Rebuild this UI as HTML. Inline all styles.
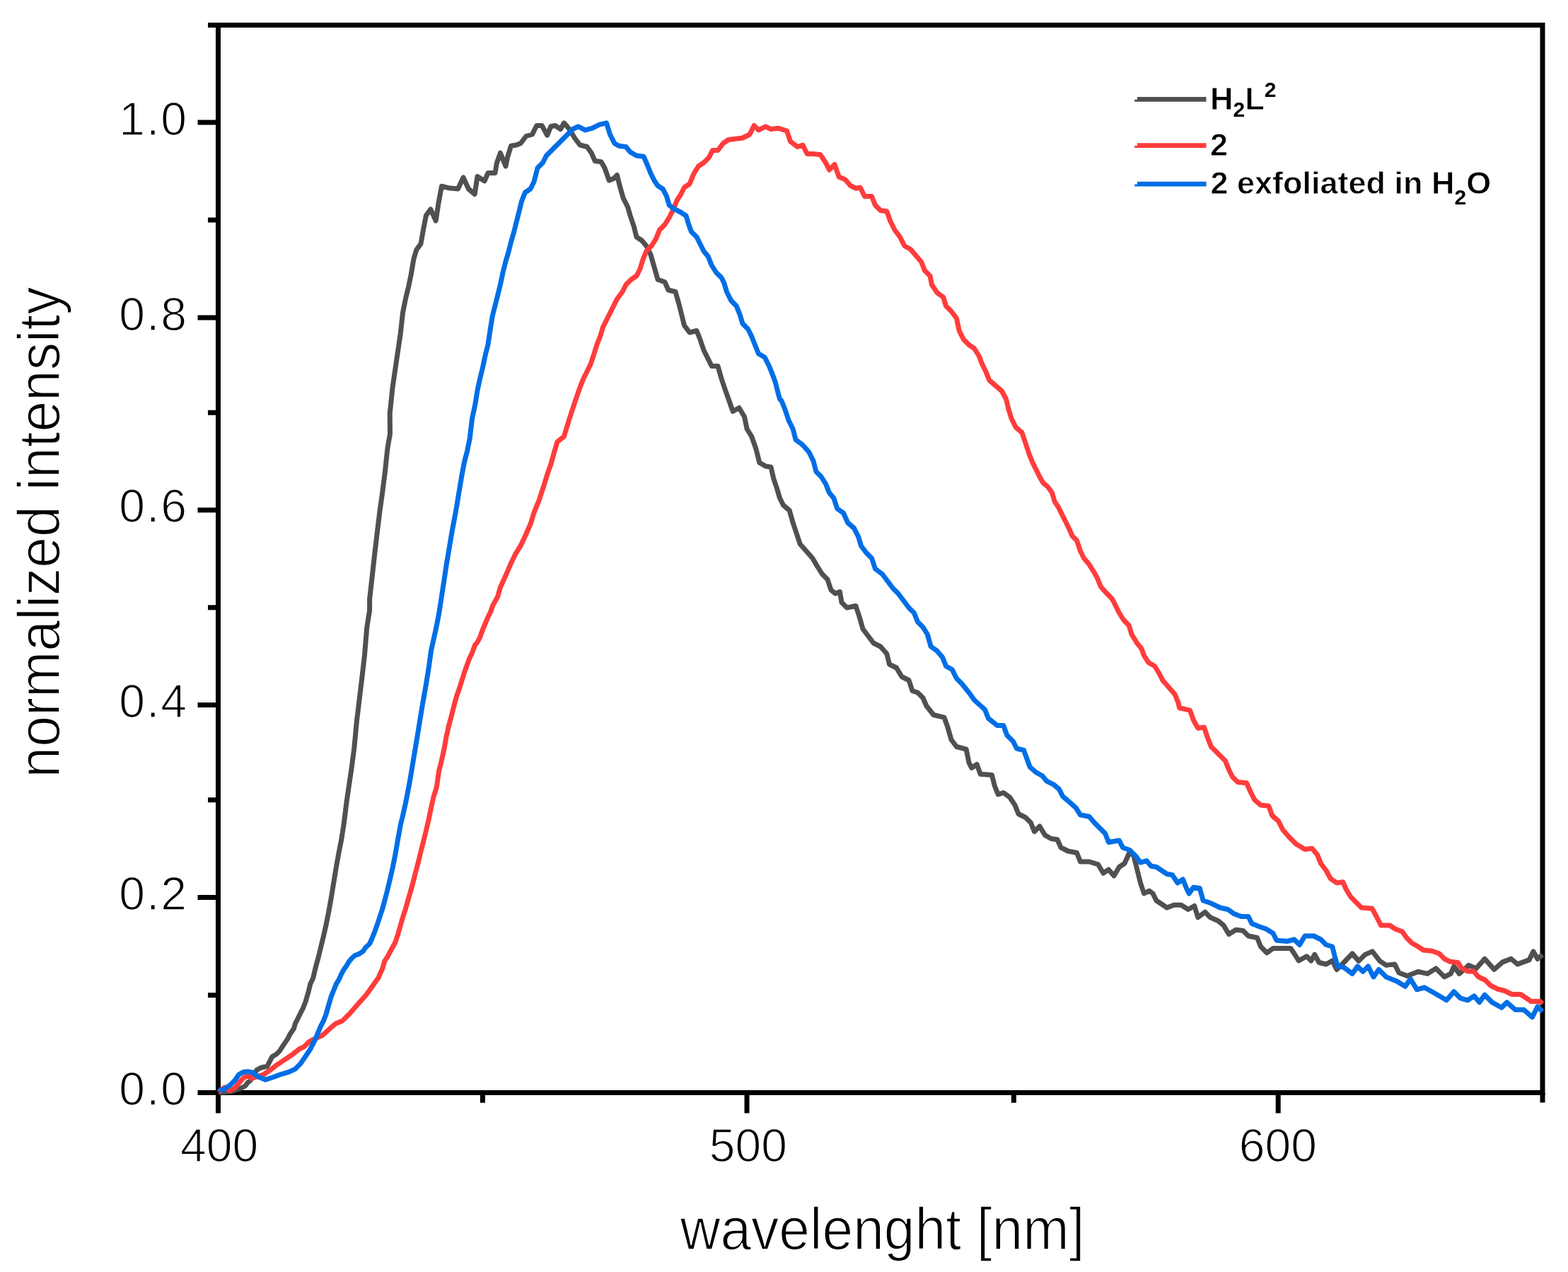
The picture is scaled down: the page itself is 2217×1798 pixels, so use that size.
<!DOCTYPE html><html><head><meta charset="utf-8"><title>Emission spectra</title><style>html,body{margin:0;padding:0;background:#fff;overflow:hidden}svg{display:block}text{font-family:"Liberation Sans",Arial,sans-serif;fill:#000}</style></head><body>
<svg width="2217" height="1798" viewBox="0 0 2217 1798">
<rect width="2217" height="1798" fill="#fff"/>
<g stroke="#000" stroke-width="7" fill="none" stroke-linecap="butt">
<rect x="308.5" y="35.5" width="1872.5" height="1509"/>
<path d="M279.5 1544.5H308.5M279.5 1268.4H308.5M279.5 996.6H308.5M279.5 720.9H308.5M279.5 449.0H308.5M279.5 173.0H308.5M294 1406.7H308.5M294 1130.8H308.5M294 858.8H308.5M294 583.2H308.5M294 311.0H308.5M294 35.5H308.5M308.5 1544.5V1573.4M1056.0 1544.5V1573.4M1807.2 1544.5V1573.4M682.4 1544.5V1558.7M1433.4 1544.5V1558.7M2181 1544.5V1558.5"/>
</g>
<g fill="none" stroke-width="7" stroke-linejoin="round" stroke-linecap="butt">
<path stroke="#505050" d="M309.0 1544.0L318.0 1543.5L328.2 1542.5L339.5 1538.7L346.8 1535.0L350.4 1530.0L354.0 1527.5L358.5 1520.0L363.1 1512.4L370.4 1508.7L377.7 1507.5L380.8 1501.4L385.0 1493.5L391.1 1489.9L395.3 1485.6L400.8 1477.1L406.6 1468.6L410.3 1461.4L415.4 1454.1L417.5 1446.8L421.2 1439.5L424.8 1432.2L428.5 1424.9L432.1 1415.8L435.8 1403.1L438.8 1390.7L442.7 1382.4L446.2 1367.5L450.3 1352.8L453.9 1337.7L457.5 1323.0L461.1 1307.0L464.7 1289.0L468.3 1269.0L471.9 1247.0L475.5 1225.0L479.1 1205.0L482.7 1187.0L486.4 1163.0L490.0 1134.0L493.5 1110.0L497.1 1085.7L500.8 1057.6L504.3 1020.2L508.0 989.6L511.5 960.7L515.4 927.0L518.8 886.6L522.6 862.9L522.6 847.0L526.2 815.0L529.8 782.5L533.4 752.0L537.0 722.5L540.6 697.0L544.3 668.0L547.9 634.0L551.5 613.0L551.2 584.5L555.0 548.2L558.8 522.0L562.5 497.0L566.2 472.0L569.5 442.0L573.8 420.8L577.5 405.8L581.2 388.2L585.0 365.8L588.8 353.2L595.0 344.5L598.8 323.2L602.5 304.5L608.8 295.8L616.2 312.0L620.0 287.0L624.5 263.2L635.0 265.8L647.5 267.0L655.0 250.8L662.5 267.0L671.2 274.5L675.0 249.5L685.0 255.8L690.0 244.5L700.0 244.5L702.5 230.0L707.5 216.2L715.0 235.0L717.5 222.5L722.5 206.2L730.0 205.0L736.2 202.5L743.8 192.5L752.5 190.0L758.8 177.5L766.2 177.5L773.8 191.2L778.8 178.8L785.0 177.5L792.5 182.5L797.5 173.8L805.0 182.5L812.5 195.0L820.0 205.0L830.0 207.5L836.2 216.2L841.2 227.5L850.0 228.8L855.0 237.5L861.2 255.0L867.5 252.5L872.5 247.5L876.2 262.5L881.2 280.0L887.5 292.5L891.2 305.0L896.2 320.0L900.0 335.0L907.5 340.0L913.8 347.5L920.0 360.0L925.0 377.5L930.0 395.0L940.0 398.8L945.0 410.0L955.0 412.5L960.0 430.0L963.8 445.0L967.5 460.0L975.0 470.0L985.0 467.5L990.0 480.0L995.0 495.0L1000.0 505.0L1006.2 517.5L1015.0 517.5L1020.0 535.0L1025.0 550.0L1030.0 564.0L1036.2 581.5L1045.0 576.5L1052.5 589.0L1056.2 606.5L1062.5 616.5L1068.8 634.0L1073.8 654.0L1082.5 659.0L1090.0 660.2L1093.8 676.5L1098.8 691.5L1102.5 704.0L1107.5 714.0L1116.2 721.5L1121.2 739.0L1126.2 754.0L1131.2 769.0L1140.0 779.0L1148.8 789.0L1156.2 801.5L1162.5 811.5L1170.0 819.0L1175.0 834.0L1181.2 839.0L1187.5 836.5L1190.0 851.5L1197.5 859.0L1210.0 856.5L1215.0 871.5L1220.0 889.0L1227.5 899.0L1235.0 909.0L1245.0 914.0L1253.8 924.0L1257.5 939.0L1267.5 944.0L1275.0 956.5L1285.0 961.5L1290.0 976.5L1297.5 979.0L1305.0 986.5L1310.0 998.0L1320.0 1010.5L1335.0 1014.2L1340.0 1028.0L1345.0 1045.5L1352.5 1055.5L1366.2 1059.2L1370.0 1078.0L1373.8 1085.5L1381.2 1080.5L1386.2 1094.2L1402.5 1095.5L1406.2 1110.5L1411.2 1123.0L1418.8 1120.5L1427.5 1126.8L1435.0 1138.0L1440.0 1150.5L1450.0 1155.5L1457.5 1163.0L1462.5 1175.5L1470.0 1168.0L1477.5 1180.5L1486.2 1185.5L1495.0 1186.8L1500.0 1198.0L1510.0 1203.0L1522.5 1205.5L1527.5 1218.0L1540.0 1218.0L1552.5 1221.8L1560.0 1234.2L1567.5 1229.2L1575.0 1238.0L1582.5 1225.5L1590.0 1220.5L1596.2 1206.8L1602.5 1208.0L1607.5 1228.0L1612.5 1248.0L1617.5 1263.0L1625.0 1259.2L1630.0 1263.0L1635.0 1273.0L1650.0 1283.0L1660.0 1279.2L1670.0 1279.2L1680.0 1285.5L1688.8 1280.5L1693.8 1296.8L1703.8 1289.2L1711.2 1296.8L1722.5 1301.8L1730.0 1308.0L1737.5 1320.5L1747.5 1314.2L1757.5 1315.5L1765.0 1323.0L1777.5 1325.5L1782.5 1338.0L1791.2 1346.8L1800.0 1340.5L1812.5 1340.5L1825.0 1340.5L1830.0 1348.0L1836.2 1358.0L1847.5 1351.8L1853.8 1358.0L1858.8 1349.2L1865.0 1360.5L1875.0 1363.0L1883.8 1358.0L1890.0 1370.5L1900.0 1360.5L1912.0 1347.9L1921.0 1358.4L1930.0 1349.4L1940.4 1344.9L1950.9 1358.4L1959.9 1364.4L1971.9 1362.9L1977.9 1374.9L1989.8 1379.4L2004.8 1373.4L2018.3 1376.4L2030.3 1368.9L2042.3 1380.9L2051.2 1376.4L2055.7 1365.9L2063.2 1376.4L2076.7 1364.4L2087.2 1368.9L2099.2 1355.4L2112.6 1370.4L2124.6 1359.9L2136.6 1355.4L2145.6 1362.9L2162.1 1356.9L2168.0 1344.9L2174.0 1355.4L2181.0 1349.4"/>
<path stroke="#FF3C3C" d="M309.0 1544.0L317.6 1537.0L324.9 1541.5L332.2 1537.9L339.5 1528.8L345.0 1523.0L350.4 1520.9L355.6 1524.3L363.0 1522.0L372.3 1519.0L383.2 1511.8L391.7 1505.1L402.6 1497.8L413.5 1490.5L422.6 1483.2L429.9 1479.6L437.2 1472.3L446.0 1468.0L455.4 1463.8L468.2 1452.3L474.9 1446.8L484.0 1443.1L494.9 1432.2L507.6 1417.6L517.4 1406.7L524.0 1397.6L531.3 1387.3L535.6 1381.2L536.2 1378.8L540.5 1370.0L543.8 1358.5L547.8 1352.5L553.1 1342.7L558.9 1332.0L562.5 1321.0L566.1 1308.5L569.7 1296.0L573.3 1285.0L576.9 1272.5L580.5 1260.0L584.1 1247.0L587.7 1232.5L591.6 1218.0L595.2 1203.0L598.8 1189.0L602.4 1174.5L606.2 1158.0L609.6 1141.5L613.4 1125.0L617.3 1113.0L620.5 1090.4L624.1 1076.0L627.7 1060.1L631.3 1040.0L634.9 1024.2L638.5 1011.2L642.1 996.8L645.7 983.8L649.3 973.8L652.9 962.2L656.5 950.7L660.1 940.6L663.7 930.6L667.3 923.4L671.6 911.8L675.2 907.5L678.8 900.3L682.4 890.2L686.0 881.6L689.6 873.0L693.9 864.3L696.5 856.4L703.7 843.4L707.3 830.5L714.5 814.6L722.0 797.3L728.9 782.9L736.1 771.4L743.6 755.5L750.5 739.7L754.8 725.3L761.8 708.0L769.0 686.4L772.9 673.4L779.8 653.2L783.7 638.8L788.0 624.4L797.5 617.0L801.2 604.5L805.0 592.0L810.0 577.0L815.0 562.0L820.0 547.5L825.0 535.0L830.0 525.0L835.0 515.0L840.0 500.0L843.8 487.5L848.8 475.0L852.5 462.5L857.5 452.5L862.5 442.5L867.5 432.5L872.5 422.5L880.0 412.5L885.0 402.5L892.5 395.0L900.0 390.0L905.0 380.0L908.8 367.5L913.8 355.0L921.2 347.5L927.5 337.5L932.5 325.0L940.0 317.5L946.2 307.5L952.5 295.0L957.5 282.5L962.5 275.0L967.5 265.0L975.0 260.0L981.2 245.0L987.5 235.0L995.0 230.0L1002.5 222.5L1007.5 212.5L1015.0 212.5L1022.5 202.5L1030.0 197.5L1040.0 196.2L1050.0 195.0L1060.0 190.0L1066.2 177.5L1072.5 183.8L1082.5 178.8L1090.0 182.5L1100.0 181.2L1112.5 185.0L1117.5 200.0L1127.5 207.5L1135.0 205.0L1141.2 217.5L1150.0 217.5L1160.0 218.8L1167.5 230.0L1172.5 240.0L1180.0 232.5L1186.2 250.0L1195.0 253.8L1202.5 262.5L1210.0 266.2L1216.2 265.0L1222.5 277.5L1232.5 277.5L1237.5 290.0L1245.0 297.5L1253.8 298.8L1258.8 312.5L1265.0 325.0L1272.5 335.0L1278.8 347.5L1287.5 352.5L1295.0 361.2L1302.5 370.0L1307.5 382.5L1315.0 390.0L1317.5 402.5L1325.0 413.8L1333.8 420.0L1337.5 432.5L1345.0 440.0L1352.5 450.0L1356.2 467.5L1362.5 480.0L1370.0 487.5L1377.5 492.5L1383.8 502.5L1388.8 515.0L1393.8 525.0L1398.8 537.5L1407.5 545.0L1416.2 552.5L1422.5 564.0L1426.2 579.0L1430.0 591.5L1436.2 604.0L1445.0 611.5L1450.0 626.5L1455.0 641.5L1460.0 654.0L1465.0 664.0L1470.0 674.0L1475.0 682.8L1481.2 687.8L1487.5 696.5L1491.2 709.0L1496.2 716.5L1501.2 726.5L1506.2 736.5L1511.2 746.5L1516.2 757.8L1522.5 764.0L1527.5 779.0L1532.5 789.0L1540.0 797.8L1546.2 807.8L1551.2 816.5L1556.2 829.0L1563.8 837.8L1572.5 846.5L1577.5 856.5L1582.5 866.5L1588.8 876.5L1596.2 884.0L1600.0 896.5L1607.5 909.0L1613.8 916.5L1617.5 926.5L1623.8 936.5L1632.5 941.5L1638.8 951.5L1643.8 961.5L1652.5 971.5L1661.2 981.5L1666.2 994.0L1667.5 1000.5L1682.5 1004.2L1687.5 1018.0L1693.8 1029.2L1702.5 1028.0L1707.5 1043.0L1712.5 1055.5L1722.5 1065.5L1732.5 1075.5L1737.5 1088.0L1742.5 1098.0L1750.0 1105.5L1762.5 1106.8L1767.5 1118.0L1773.8 1130.5L1782.5 1138.0L1793.8 1139.2L1798.8 1153.0L1807.5 1160.5L1813.8 1173.0L1822.5 1183.0L1832.5 1193.0L1845.0 1200.5L1855.0 1199.2L1862.5 1208.0L1867.5 1220.5L1875.0 1230.5L1881.2 1241.8L1890.0 1248.0L1898.8 1246.8L1903.8 1258.0L1910.0 1268.0L1917.5 1275.5L1925.0 1283.0L1940.0 1284.2L1946.2 1295.5L1952.5 1308.0L1965.0 1308.0L1972.5 1313.0L1982.5 1316.8L1988.8 1325.5L1996.2 1333.0L2005.0 1338.0L2012.5 1343.0L2025.0 1344.2L2035.0 1348.0L2042.5 1355.5L2050.0 1359.2L2061.2 1360.5L2066.2 1368.0L2075.0 1373.0L2083.8 1373.0L2090.0 1380.5L2100.0 1385.5L2107.5 1393.0L2117.5 1398.0L2127.5 1400.5L2137.5 1405.5L2150.0 1405.5L2157.5 1410.5L2165.0 1415.5L2177.5 1415.5L2181.0 1419.0"/>
<path stroke="#006EE6" d="M309.0 1541.0L315.8 1540.3L324.9 1534.2L332.2 1527.0L337.6 1519.0L343.7 1515.4L350.4 1514.8L357.1 1516.0L365.0 1522.0L375.3 1526.3L388.0 1522.0L395.9 1519.0L408.1 1515.4L417.4 1511.1L424.5 1503.9L431.8 1493.5L439.0 1482.6L446.3 1468.0L450.0 1458.9L453.6 1450.4L457.3 1443.1L460.9 1434.0L464.5 1421.3L468.2 1408.8L471.8 1399.7L475.5 1390.7L479.1 1384.9L482.5 1377.2L486.2 1370.3L490.0 1365.1L493.4 1359.3L497.2 1354.7L501.5 1350.7L507.8 1348.4L513.0 1344.9L517.0 1339.2L522.6 1334.0L526.2 1326.0L529.8 1317.0L533.4 1307.0L537.0 1296.0L540.6 1285.0L544.2 1272.0L547.8 1258.0L551.4 1243.0L555.3 1226.0L558.9 1208.0L562.5 1187.0L566.1 1167.0L569.7 1152.0L573.3 1136.0L576.9 1118.0L580.5 1098.0L584.0 1077.0L587.6 1055.5L591.2 1034.0L594.8 1011.5L598.4 990.0L602.3 968.4L606.2 943.7L609.5 920.0L613.3 902.8L617.0 886.0L620.5 868.0L624.2 844.5L627.8 821.0L631.4 797.0L635.1 775.4L638.7 753.5L642.4 734.0L646.0 714.0L649.6 692.0L653.3 670.0L656.8 652.0L660.5 638.0L664.2 620.0L667.5 592.0L671.8 572.0L675.0 552.0L678.8 534.5L682.5 519.5L686.2 502.0L690.0 487.0L693.0 467.0L696.2 447.0L700.0 432.0L703.8 417.0L707.5 402.0L711.2 384.5L715.0 369.5L718.8 357.0L722.5 342.0L726.2 329.5L730.0 314.5L733.8 299.5L737.5 284.5L742.5 272.0L750.0 267.0L755.0 257.0L760.0 237.5L767.5 230.0L772.5 220.0L780.0 212.5L787.5 205.0L795.0 197.5L802.5 190.0L810.0 182.5L817.5 178.8L827.5 183.8L837.5 181.2L847.5 176.2L857.5 173.8L862.5 190.0L868.8 202.5L875.0 206.2L885.0 207.5L891.2 215.0L900.0 220.0L910.0 221.2L915.0 232.5L920.0 245.0L925.0 255.0L930.0 262.5L937.5 267.5L942.5 277.5L946.2 290.0L952.5 295.0L962.5 300.0L970.0 305.0L973.8 317.5L977.5 327.5L985.0 335.0L990.0 345.0L995.0 355.0L1001.2 362.5L1006.2 375.0L1012.5 385.0L1020.0 392.5L1023.8 400.0L1027.5 412.5L1033.8 425.0L1041.2 432.5L1046.2 445.0L1050.0 457.5L1057.5 465.0L1062.5 475.0L1067.5 487.5L1072.5 500.0L1081.2 505.0L1087.5 517.5L1092.5 530.0L1096.2 540.0L1100.0 555.0L1102.5 564.0L1105.0 566.5L1110.0 579.0L1115.0 594.0L1121.2 606.5L1125.0 621.5L1135.0 629.0L1143.8 639.0L1150.0 651.5L1153.8 666.5L1161.2 674.0L1167.5 684.0L1172.5 696.5L1178.8 704.0L1183.8 719.0L1192.5 725.2L1198.8 739.0L1207.5 746.5L1213.8 759.0L1217.5 771.5L1225.0 781.5L1232.5 789.0L1237.5 804.0L1247.5 811.5L1255.0 821.5L1262.5 831.5L1270.0 839.0L1277.5 849.0L1285.0 859.0L1292.5 866.5L1297.5 879.0L1305.0 886.5L1311.2 896.5L1316.2 914.0L1325.0 920.2L1332.5 929.0L1337.5 941.5L1346.2 946.5L1352.5 959.0L1360.0 966.5L1370.0 979.0L1378.0 990.0L1392.5 1003.0L1397.5 1015.5L1410.0 1025.5L1418.8 1025.5L1423.8 1039.2L1432.5 1048.0L1437.5 1058.0L1447.5 1060.5L1451.2 1070.5L1456.2 1084.2L1465.0 1091.8L1473.8 1096.8L1480.0 1104.2L1490.0 1109.2L1497.5 1115.5L1502.5 1125.5L1512.5 1134.2L1521.2 1141.8L1527.5 1151.8L1540.0 1154.2L1547.5 1163.0L1555.0 1170.5L1562.5 1178.0L1567.5 1190.5L1582.5 1188.0L1587.5 1198.0L1597.5 1201.8L1606.2 1210.5L1612.5 1219.2L1621.2 1216.8L1627.5 1224.2L1635.0 1225.5L1650.0 1235.5L1657.5 1236.8L1665.0 1248.0L1672.5 1243.0L1677.5 1255.5L1681.2 1263.0L1687.5 1254.2L1696.2 1255.5L1701.2 1273.0L1712.5 1276.8L1725.0 1283.0L1736.2 1285.5L1745.0 1291.8L1755.0 1295.5L1765.0 1295.5L1770.0 1305.5L1782.5 1310.5L1790.0 1313.0L1800.0 1319.2L1805.0 1329.2L1820.0 1330.5L1830.0 1328.0L1837.5 1335.5L1845.0 1323.0L1857.5 1323.0L1867.5 1328.0L1875.0 1335.5L1883.8 1338.0L1887.5 1353.0L1891.2 1365.5L1900.0 1367.4L1912.0 1376.4L1919.5 1365.9L1927.0 1373.4L1934.4 1365.9L1942.0 1380.9L1949.4 1370.4L1960.0 1380.9L1974.9 1386.9L1986.9 1394.3L1994.3 1383.9L2003.3 1398.8L2013.8 1395.8L2027.3 1403.3L2045.3 1413.8L2055.7 1401.8L2064.7 1410.8L2075.2 1413.8L2084.2 1407.8L2091.7 1416.8L2099.2 1406.3L2109.6 1416.8L2123.1 1424.3L2130.6 1416.8L2142.6 1427.3L2154.6 1427.3L2166.5 1437.8L2174.0 1422.8L2181.0 1430.0"/>
</g>
<g font-size="66" text-anchor="end" letter-spacing="2" stroke="#fff" stroke-width="1.4">
<text x="266" y="1562.0">0.0</text>
<text x="266" y="1285.9">0.2</text>
<text x="266" y="1014.1">0.4</text>
<text x="266" y="738.4">0.6</text>
<text x="266" y="466.5">0.8</text>
<text x="266" y="190.5">1.0</text>
</g>
<g font-size="66" text-anchor="middle" stroke="#fff" stroke-width="1.4">
<text x="310.1" y="1642">400</text>
<text x="1057.9" y="1642">500</text>
<text x="1806.9" y="1642">600</text>
</g>
<text transform="translate(1247.6 1766) scale(0.952 1)" font-size="82.5" text-anchor="middle" stroke="#fff" stroke-width="1.6">wavelenght [nm]</text>
<text transform="translate(83.5 752.4) rotate(-90) scale(0.952 1)" font-size="82.5" text-anchor="middle" stroke="#fff" stroke-width="1.6">normalized intensity</text>
<path fill="#505050" d="M1604.2 140.80H1608V137.10H1705.5V143.85H1604.2Z"/>
<path fill="#FF3C3C" d="M1604.2 206.00H1608V202.30H1705.5V209.05H1604.2Z"/>
<path fill="#006EE6" d="M1604.2 260.40H1608V256.70H1705.5V263.45H1604.2Z"/>
<g font-size="45" font-weight="bold" stroke="#fff" stroke-width="0.8">
<text x="1711" y="154.8">H<tspan font-size="30" stroke="none" dy="10">2</tspan><tspan dy="-10">L</tspan><tspan font-size="30" stroke="none" dy="-18">2</tspan></text>
<text x="1711" y="220.4">2</text>
<text x="1711.5" y="274.3">2 exfoliated in H<tspan font-size="30" stroke="none" dy="14.5">2</tspan><tspan dy="-14.5">O</tspan></text>
</g>
</svg></body></html>
